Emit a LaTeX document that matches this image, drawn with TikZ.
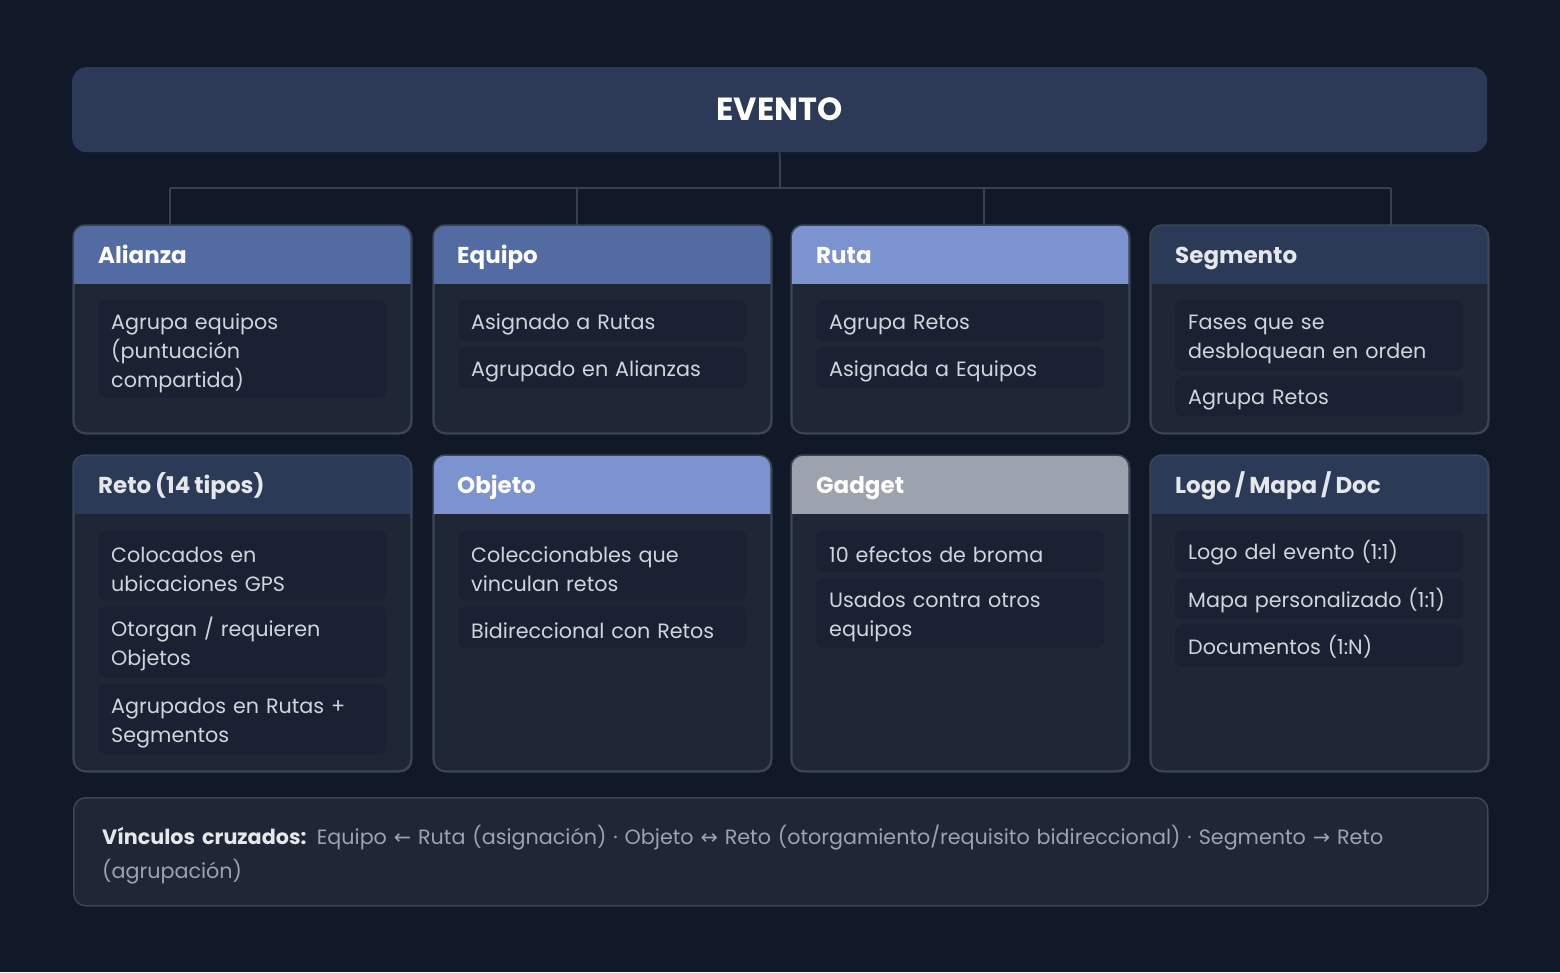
\documentclass[tikz,border=0pt]{standalone}
\usepackage{fontspec}
\setmainfont{Poppins}[WordSpace=0.8]
\newfontfamily\arrowfont{DejaVu Sans}
\usetikzlibrary{positioning}
\definecolor{bg}{HTML}{111827}
\definecolor{barc}{HTML}{2C3A58}
\definecolor{connc}{HTML}{374151}
\definecolor{bodyc}{HTML}{1F2736}
\definecolor{borderc}{HTML}{3B4556}
\definecolor{itemc}{HTML}{1A2133}
\definecolor{hmid}{HTML}{536BA3}
\definecolor{hlight}{HTML}{7B93CE}
\definecolor{hgray}{HTML}{9CA3AF}
\definecolor{hdark}{HTML}{2B3A57}
\definecolor{itemtxt}{HTML}{D1D5DB}
\definecolor{foottxt}{HTML}{9CA3AF}
\definecolor{boldtxt}{HTML}{E5E7EB}
\tikzset{
  conn/.style={draw=connc, line width=2pt},
  cardbox/.style={draw=borderc, line width=1.5pt, fill=bodyc, rounded corners=12pt, anchor=north west, minimum width=338pt, inner sep=0pt},
  htitle/.style={anchor=base west, inner sep=0pt, font=\fontsize{23}{28}\selectfont\bfseries},
  itembox/.style={fill=itemc, rounded corners=7pt, anchor=north west, text width=262pt, inner xsep=13pt, inner ysep=0pt, align=left, text=itemtxt, font=\fontsize{20.7}{29}\selectfont, execute at begin node={\rule{0pt}{23pt}}},
}
\newcommand{\card}[5]{% name, x, y, height, header colour
  \node[cardbox, minimum height=#4pt] (#1) at (#2,#3) {};
  \begin{scope}
    \clip[rounded corners=12pt] (#2,#3) rectangle ++(338,#4);
    \fill[#5] (#2,#3) rectangle ++(338,59);
  \end{scope}
  \draw[draw=borderc, line width=1.5pt, rounded corners=12pt] (#2,#3) rectangle ++(338,#4);
}
\begin{document}
\begin{tikzpicture}[x=1pt,y=-1pt]
\fill[bg] (0,0) rectangle (1560,972);
\useasboundingbox (0,0) rectangle (1560,972);

% top bar
\node[fill=barc, rounded corners=14pt, minimum width=1415pt, minimum height=85pt, inner sep=0pt, anchor=north west,
      text=white, font=\fontsize{32}{36}\selectfont\bfseries] (evento) at (72,67) {EVENTO};

% connectors
\coordinate (bus) at (780,188);
\coordinate (b1) at (170,188);
\coordinate (b4) at (1391,188);
\coordinate (t1) at (170,225);
\coordinate (t2) at (577,225);
\coordinate (t3) at (984,225);
\coordinate (t4) at (1391,225);
\draw[conn] (evento.south) -- (bus);
\draw[conn] (b1) -- (b4);
\draw[conn] (t1) -- (t1 |- bus);
\draw[conn] (t2) -- (t2 |- bus);
\draw[conn] (t3) -- (t3 |- bus);
\draw[conn] (t4) -- (t4 |- bus);

% row 1
\card{alianza}{73}{225}{208}{hmid}
\card{equipo}{433}{225}{208}{hmid}
\card{ruta}{791}{225}{208}{hlight}
\card{segmento}{1150}{225}{208}{hdark}
\node[htitle, text=white] (talianza) at (98,263) {Alianza};
\node[htitle, text=white] (tequipo) at (457,263) {Equipo};
\node[htitle, text=white] (truta) at (816,263) {Ruta};
\node[htitle, text=boldtxt] (tsegmento) at (1175,263) {Segmento};

\node[itembox, minimum height=98pt] (a1) at (98,300) {Agrupa equipos\\(puntuación\\compartida)};

\node[itembox, minimum height=41pt] (e1) at (458,300) {Asignado a Rutas};
\node[itembox, minimum height=41pt] (e2) at (458,347) {Agrupado en Alianzas};

\node[itembox, minimum height=41pt] (r1) at (816,300) {Agrupa Retos};
\node[itembox, minimum height=41pt] (r2) at (816,347) {Asignada a Equipos};

\node[itembox, minimum height=70pt] (s1) at (1175,300) {Fases que se\\desbloquean en orden};
\node[itembox, minimum height=40pt] (s2) at (1175,376) {Agrupa Retos};

% row 2
\card{reto}{73}{455}{316}{hdark}
\card{objeto}{433}{455}{316}{hlight}
\card{gadget}{791}{455}{316}{hgray}
\card{logo}{1150}{455}{316}{hdark}
\node[htitle, text=boldtxt] (treto) at (98,493) {Reto (14 tipos)};
\node[htitle, text=white] (tobjeto) at (457,493) {Objeto};
\node[htitle, text=white] (tgadget) at (816,493) {Gadget};
\node[htitle, text=boldtxt] (tlogo) at (1175,493) {Logo / Mapa / Doc};

\node[itembox, minimum height=70pt] (re1) at (98,530) {Colocados en\\ubicaciones GPS};
\node[itembox, minimum height=72pt] (re2) at (98,606) {Otorgan / requieren\\Objetos};
\node[itembox, minimum height=70pt] (re3) at (98,684) {Agrupados en Rutas +\\Segmentos};

\node[itembox, minimum height=70pt] (o1) at (458,530) {Coleccionables que\\vinculan retos};
\node[itembox, minimum height=42pt] (o2) at (458,606) {Bidireccional con Retos};

\node[itembox, minimum height=42pt] (g1) at (816,530) {10 efectos de broma};
\node[itembox, minimum height=70pt] (g2) at (816,578) {Usados contra otros\\equipos};

\node[itembox, minimum height=42pt] (l1) at (1175,530) {Logo del evento (1:1)};
\node[itembox, minimum height=41pt] (l2) at (1175,578) {Mapa personalizado (1:1)};
\node[itembox, minimum height=42pt] (l3) at (1175,624) {Documentos (1:N)};

% footer
\node[draw=borderc, line width=1.5pt, fill=bodyc, rounded corners=12pt, anchor=north west,
      minimum width=1414pt, minimum height=108pt, inner sep=0pt] (footer) at (73,797) {};
\node[anchor=north west, inner sep=0pt, text width=1380pt, align=left, text=foottxt,
      font=\fontsize{20.7}{34}\selectfont] (foottext) at (102,825)
  {{\color{boldtxt}\bfseries Vínculos cruzados:} Equipo {\arrowfont ←} Ruta (asignación) · Objeto {\arrowfont ↔} Reto (otorgamiento/requisito bidireccional) · Segmento {\arrowfont →} Reto\\(agrupación)};
\end{tikzpicture}
\end{document}
